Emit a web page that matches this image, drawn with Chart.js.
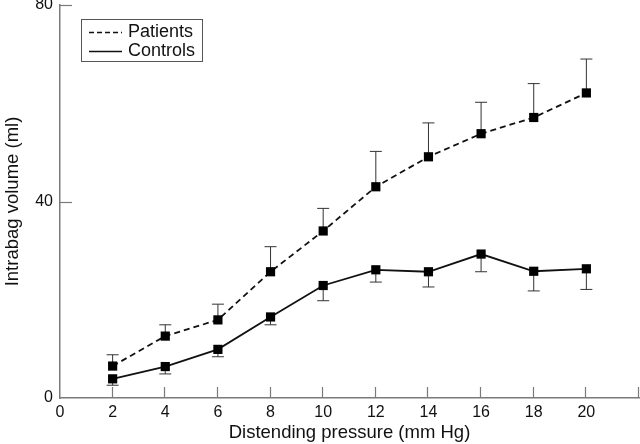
<!DOCTYPE html>
<html>
<head>
<meta charset="utf-8">
<script src="https://cdn.jsdelivr.net/npm/chart.js@4"></script>
<style>
  html, body { margin: 0; padding: 0; background: #fff; }
  #wrap { width: 640px; height: 444px; }
</style>
</head>
<body>
<div id="wrap"><canvas id="chart"></canvas></div>
<script>
// Data
const pressures = [2, 4, 6, 8, 10, 12, 14, 16, 18, 20];
const patients = [6.5, 12.6, 15.9, 25.7, 34.0, 43.0, 49.1, 53.8, 57.1, 62.1];
const patientsUpper = [8.8, 14.9, 19.1, 30.8, 38.6, 50.2, 56.0, 60.2, 64.0, 69.0];
const controls = [3.9, 6.4, 9.9, 16.5, 22.9, 26.1, 25.7, 29.3, 25.8, 26.3];
const controlsLower = [2.6, 4.9, 8.4, 14.9, 19.8, 23.6, 22.6, 25.7, 21.8, 22.1];
const xTicks = [0, 2, 4, 6, 8, 10, 12, 14, 16, 18, 20, 22];
const yTicks = [0, 40, 80];

const FONT = '"Liberation Sans", Arial, sans-serif';
const AXIS_COLOR = '#7a7a7a';

// Error bars (patients up, controls down)
const errorBars = {
    id: 'errorBars',
    beforeDatasetsDraw(chart) {
        const ctx = chart.ctx;
        const x = chart.scales.x, y = chart.scales.y;
        const bars = [
            { mean: patients, end: patientsUpper },
            { mean: controls, end: controlsLower }
        ];
        ctx.save();
        ctx.strokeStyle = '#333';
        ctx.lineWidth = 1;
        bars.forEach(b => {
            pressures.forEach((p, i) => {
                const px = x.getPixelForValue(p);
                const y0 = y.getPixelForValue(b.mean[i]);
                const y1 = y.getPixelForValue(b.end[i]);
                ctx.beginPath();
                ctx.moveTo(px, y0);
                ctx.lineTo(px, y1);
                ctx.moveTo(px - 6, y1);
                ctx.lineTo(px + 6, y1);
                ctx.stroke();
            });
        });
        ctx.restore();
    }
};

// Inward tick marks + legend box
const decorations = {
    id: 'decorations',
    afterDraw(chart) {
        const ctx = chart.ctx;
        const x = chart.scales.x, y = chart.scales.y;
        const area = chart.chartArea;
        ctx.save();
        ctx.strokeStyle = AXIS_COLOR;
        ctx.lineWidth = 1.2;
        xTicks.forEach(t => {
            if (t === 0) return;
            const px = Math.round(x.getPixelForValue(t)) - 0.5;
            ctx.beginPath();
            ctx.moveTo(px, area.bottom);
            ctx.lineTo(px, area.bottom - 11);
            ctx.stroke();
        });
        yTicks.forEach(t => {
            if (t === 0) return;
            const py = Math.round(y.getPixelForValue(t)) + 0.5;
            ctx.beginPath();
            ctx.moveTo(area.left, py);
            ctx.lineTo(area.left + 12, py);
            ctx.stroke();
        });

        // legend
        ctx.strokeStyle = '#555';
        ctx.lineWidth = 1;
        ctx.strokeRect(81.5, 19.5, 121, 42);
        ctx.strokeStyle = '#111';
        ctx.lineWidth = 1.3;
        ctx.setLineDash([5, 3]);
        ctx.beginPath();
        ctx.moveTo(89, 32.5);
        ctx.lineTo(122, 32.5);
        ctx.stroke();
        ctx.setLineDash([]);
        ctx.beginPath();
        ctx.moveTo(89, 51.5);
        ctx.lineTo(122, 51.5);
        ctx.stroke();
        ctx.fillStyle = '#111';
        ctx.font = '18px ' + FONT;
        ctx.textBaseline = 'middle';
        ctx.fillText('Patients', 128, 32);
        ctx.fillText('Controls', 128, 51);
        ctx.restore();
    }
};

new Chart(document.getElementById('chart'), {
    type: 'line',
    data: {
        datasets: [
            {
                label: 'Patients',
                data: pressures.map((p, i) => ({ x: p, y: patients[i] })),
                borderColor: '#111',
                backgroundColor: '#000',
                borderWidth: 1.8,
                borderDash: [6, 4],
                pointStyle: 'rect',
                pointRadius: 6.5,
                pointBorderWidth: 0,
                tension: 0
            },
            {
                label: 'Controls',
                data: pressures.map((p, i) => ({ x: p, y: controls[i] })),
                borderColor: '#111',
                backgroundColor: '#000',
                borderWidth: 1.8,
                pointStyle: 'rect',
                pointRadius: 6.5,
                pointBorderWidth: 0,
                tension: 0
            }
        ]
    },
    options: {
        responsive: true,
        maintainAspectRatio: false,
        animation: false,
        clip: false,
        layout: { autoPadding: false, padding: { top: 5, right: 1, left: 0, bottom: 0 } },
        plugins: {
            legend: { display: false },
            tooltip: { enabled: false }
        },
        scales: {
            x: {
                type: 'linear',
                min: 0,
                max: 22,
                afterBuildTicks: s => { s.ticks = xTicks.map(v => ({ value: v })); },
                afterFit: s => { s.height = 46; s.paddingLeft = 0; s.paddingRight = 0; },
                grid: { display: false, drawTicks: false, tickLength: 0 },
                border: { display: true, color: AXIS_COLOR, width: 1.5 },
                ticks: {
                    color: '#111',
                    font: { family: FONT, size: 16 },
                    padding: 5,
                    maxRotation: 0,
                    callback: v => v === 22 ? '' : v
                },
                title: {
                    display: true,
                    text: 'Distending pressure (mm Hg)',
                    color: '#111',
                    font: { family: FONT, size: 18.5 },
                    padding: { top: 0, bottom: 0 }
                }
            },
            y: {
                min: 0,
                max: 80,
                afterBuildTicks: s => { s.ticks = yTicks.map(v => ({ value: v })); },
                afterFit: s => { s.width = 60; s.paddingTop = 0; s.paddingBottom = 0; },
                grid: { display: false, drawTicks: false, tickLength: 0 },
                border: { display: true, color: AXIS_COLOR, width: 1.5 },
                ticks: {
                    color: '#111',
                    font: { family: FONT, size: 16 },
                    padding: 7
                },
                title: {
                    display: true,
                    text: 'Intrabag volume (ml)',
                    color: '#111',
                    font: { family: FONT, size: 18.5 },
                    padding: { top: 2, bottom: 0 }
                }
            }
        }
    },
    plugins: [errorBars, decorations]
});
</script>
</body>
</html>
